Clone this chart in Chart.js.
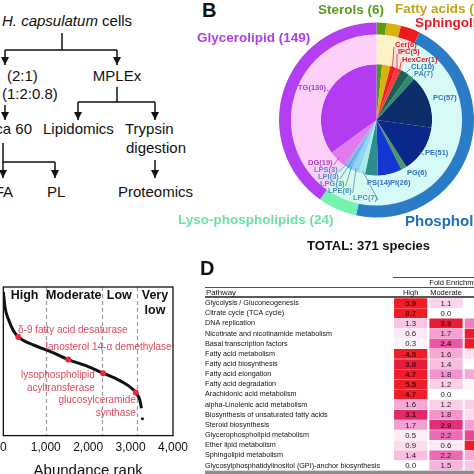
<!DOCTYPE html>
<html>
<head>
<meta charset="utf-8">
<script src="https://cdn.jsdelivr.net/npm/chart.js@4.4.1/dist/chart.umd.min.js"></script>
<style>
    html, body { margin: 0; padding: 0; background: #fff; width: 474px; height: 474px; overflow: hidden; }
    body { position: relative; font-family: 'Liberation Sans', Arial, sans-serif; }
    .abs { position: absolute; }
    .panel-letter { position: absolute; font-weight: bold; font-size: 20px; line-height: 1; color: #111; }
</style>
</head>
<body>

<!-- A: workflow -->
<svg class="abs" style="left:0;top:0" width="200" height="210" font-family="'Liberation Sans', Arial, sans-serif" font-size="15" fill="#111">
    <defs>
        <marker id="ah" viewBox="0 0 10 10" refX="10" refY="5" markerUnits="userSpaceOnUse" markerWidth="8" markerHeight="8" orient="auto">
            <path d="M0,0 L10,5 L0,10 z" fill="#111"/>
        </marker>
    </defs>
    <g stroke="#111" stroke-width="1.5" fill="none">
        <path d="M62,33 V50 M5,50 H117"/>
        <path d="M5,50 V65" marker-end="url(#ah)"/>
        <path d="M117,50 V65" marker-end="url(#ah)"/>
        <path d="M5,105 V120" marker-end="url(#ah)"/>
        <path d="M117,87 V102 M78,102 H155"/>
        <path d="M78,102 V120" marker-end="url(#ah)"/>
        <path d="M155,102 V120" marker-end="url(#ah)"/>
        <path d="M3,143 V178" marker-end="url(#ah)"/>
        <path d="M3,162 H55"/>
        <path d="M55,162 V178" marker-end="url(#ah)"/>
        <path d="M155,160 V178" marker-end="url(#ah)"/>
    </g>
    <text x="2" y="26"><tspan font-style="italic">H. capsulatum</tspan> cells</text>
    <text x="7" y="81">(2:1)</text>
    <text x="117" y="81" text-anchor="middle">MPLEx</text>
    <text x="2" y="99">(1:2:0.8)</text>
    <text x="32" y="134" text-anchor="end">ca 60</text>
    <text x="43" y="134">Lipidomics</text>
    <text x="125" y="134">Trypsin</text>
    <text x="126" y="153">digestion</text>
    <text x="13" y="197" text-anchor="end">FA</text>
    <text x="47" y="197">PL</text>
    <text x="118" y="197">Proteomics</text>
</svg>

<div class="panel-letter" style="left:202px;top:0px">B</div>
<canvas id="lipidChart" class="abs" style="left:170px;top:0" width="304" height="260"></canvas>
<canvas id="rankChart" class="abs" style="left:-5px;top:280px" width="205" height="200"></canvas>
<canvas id="pathChart" class="abs" style="left:200px;top:270px" width="300" height="205"></canvas>
<div class="panel-letter" style="left:200px;top:258px">D</div>

<script>
// ---------- data: B (lipid species) ----------
const classLabels = ['Sterols', 'Fatty acids', 'Sphingolipids', 'Phospholipids', 'Lyso-phospholipids', 'Glycerolipid'];
const classCounts = [6, 9, 12, 171, 24, 149];
const subLabels = ['ST', 'FA', 'Cer', 'IPC', 'HexCer', 'CL', 'PA', 'PC', 'PE', 'PG', 'PI', 'PS',
    'LPC', 'LPE', 'LPG', 'LPI', 'LPS', 'DG', 'TG'];
const subCounts = [6, 9, 6, 5, 1, 10, 7, 57, 51, 6, 26, 14, 7, 8, 3, 3, 3, 19, 130];
const totalSpecies = 371;

// ---------- data: C (abundance rank) ----------
const rankValues = [0, 40, 118, 235, 353, 706, 1099, 1529, 1962, 2353, 2746, 3122, 3216, 3256];
const abundanceValues = [10.77, 10.04, 9.49, 8.95, 8.65, 8.27, 7.97, 7.58, 7.28, 6.94, 6.59, 6.03, 5.68, 5.29];
const tailRanks = [3280];
const tailAbundance = [4.79];
const markedProteins = ['δ-9 fatty acid desaturase', 'lanosterol 14-α demethylase',
    'lysophospholipid acyltransferase', 'glucosylceramide synthase'];
const markedRanks = [353, 1529, 2353, 3122];
const markedAbundance = [8.65, 7.58, 6.94, 6.03];
const tierNames = ['High', 'Moderate', 'Low', 'Very low'];
const tierBounds = [1000, 2320, 3150];
const rankTicks = [0, 1000, 2000, 3000, 4000];

// ---------- data: D (pathway enrichment) ----------
const pathways = [
    'Glycolysis / Gluconeogenesis',
    'Citrate cycle (TCA cycle)',
    'DNA replication',
    'Nicotinate and nicotinamide metabolism',
    'Basal transcription factors',
    'Fatty acid metabolism',
    'Fatty acid biosynthesis',
    'Fatty acid elongation',
    'Fatty acid degradation',
    'Arachidonic acid metabolism',
    'alpha-Linolenic acid metabolism',
    'Biosynthesis of unsaturated fatty acids',
    'Steroid biosynthesis',
    'Glycerophospholipid metabolism',
    'Ether lipid metabolism',
    'Sphingolipid metabolism',
    'Glycosylphosphatidylinositol (GPI)-anchor biosynthesis'
];
const foldColumns = ['High', 'Moderate', 'Low'];
const foldHigh = [5.9, 8.7, 1.3, 0.6, 0.3, 4.5, 3.8, 4.7, 5.5, 4.7, 1.6, 3.1, 1.7, 0.5, 0.9, 1.4, 0.0];
const foldModerate = [1.1, 0.0, 3.9, 1.7, 2.4, 1.6, 1.4, 1.8, 1.2, 0.0, 1.2, 1.8, 2.9, 2.2, 0.6, 2.2, 1.5];
const foldLow = [0.0, 0.0, 2.0, 4.2, 4.4, 0.8, 0.0, 1.6, 0.3, 0.0, 1.2, 0.9, 1.7, 2.6, 4.6, 1.6, 1.3];

// ---------- styles ----------
const FONT = "'Liberation Sans', Arial, sans-serif";
Chart.defaults.font.family = FONT;
Chart.defaults.color = '#111';

const CLASS_COLORS = ['#5a9b1a', '#d9b30f', '#ee1a1a', '#2b7cc7', '#74f2b0', '#b43ef2'];
const CLASS_PALE = ['#fdf3c4', '#fdf3c4', '#fde2e2', '#d6faf6', '#d6fbea', '#fcd0f8'];
const CLASS_TEXT = ['#5a9b1e', '#c4a418', '#e81822', '#2070b8', '#6ee0a0', '#b03ee8'];
const SUB_COLORS = ['#4d961e', '#d6b20a', '#f02020', '#f53a3a', '#d01010', '#1d5e55', '#2e8b6e',
    '#0c2f6b', '#09288a', '#4a9a66', '#1537d0', '#2d8c94',
    '#a8ece4', '#8fd4f2', '#74bde8', '#5fa6de', '#8ab8ee', '#e07cf0', '#b43cf0'];

// label placement for panel B (canvas-local px), index into classes / subclasses
const CLASS_LABEL_POS = [[148, 10, 13.5], [225, 9, 13.5], [245, 23, 13.5], [235, 222, 15], [8, 220, 13.5], [27, 38, 13.5]];
const SUB_LABEL_POS = [
    { i: 2, x: 225, y: 45, c: '#e02020', lead: 'mid' },
    { i: 3, x: 228, y: 52, c: '#e02020', lead: 'mid' },
    { i: 4, x: 232, y: 60, c: '#e02020', lead: 'mid' },
    { i: 5, x: 241, y: 67, c: '#2f70b0', lead: 'mid' },
    { i: 6, x: 244, y: 74, c: '#3a8ab8', lead: 'mid' },
    { i: 7, x: 263, y: 98, c: '#3070c0' },
    { i: 8, x: 255, y: 153, c: '#3070c0', lead: 'dir' },
    { i: 9, x: 237, y: 173, c: '#3070c0' },
    { i: 10, x: 220, y: 183, c: '#3070c0' },
    { i: 11, x: 197, y: 183, c: '#3070c0' },
    { i: 12, x: 183, y: 198, c: '#4a90c0', lead: 'mid' },
    { i: 13, x: 158, y: 191, c: '#4a90c0', lead: 'mid' },
    { i: 14, x: 150, y: 184, c: '#4a90c0', lead: 'mid' },
    { i: 15, x: 148, y: 177, c: '#4a90c0', lead: 'mid' },
    { i: 16, x: 144, y: 170, c: '#4a90c0', lead: 'mid' },
    { i: 17, x: 138, y: 163, c: '#b040c8', lead: 'mid' },
    { i: 18, x: 128, y: 88, c: '#a040d8', lead: 'dir' }
];

// 标签绘制 (panel B)
const lipidLabels = {
    id: 'lipidLabels',
    afterDraw(chart) {
        const ctx = chart.ctx;
        const inner = chart.getDatasetMeta(2).data;
        const cx = inner[0].x, cy = inner[0].y, r = inner[0].outerRadius;
        ctx.save();
        ctx.textBaseline = 'middle';

        // subclass labels + leader lines
        ctx.font = `bold 7.5px ${FONT}`;
        SUB_LABEL_POS.forEach(p => {
            const text = `${subLabels[p.i]}(${subCounts[p.i]})`;
            const w = ctx.measureText(text).width;
            ctx.fillStyle = p.c;
            ctx.textAlign = 'left';
            ctx.fillText(text, p.x, p.y);
            if (!p.lead) return;
            const left = p.x + w / 2 < cx;
            const sx = left ? p.x + w + 1 : p.x - 1;
            const sy = p.y + 2;
            let ang;
            if (p.lead === 'mid') {
                const a = inner[p.i];
                ang = (a.startAngle + a.endAngle) / 2;
            } else {
                ang = Math.atan2(sy - cy, sx - cx);
            }
            const tr = p.lead === 'mid' ? r - 3 : r - 2;
            ctx.strokeStyle = p.c;
            ctx.lineWidth = 0.8;
            ctx.beginPath();
            ctx.moveTo(sx, sy);
            ctx.lineTo(cx + Math.cos(ang) * tr, cy + Math.sin(ang) * tr);
            ctx.stroke();
        });

        // class labels
        CLASS_LABEL_POS.forEach((p, i) => {
            ctx.font = `bold ${p[2]}px ${FONT}`;
            ctx.fillStyle = CLASS_TEXT[i];
            ctx.textAlign = 'left';
            ctx.fillText(`${classLabels[i]} (${classCounts[i]})`, p[0], p[1]);
        });

        ctx.font = `bold 13px ${FONT}`;
        ctx.fillStyle = '#111';
        ctx.fillText(`TOTAL: ${totalSpecies} species`, 137, 246);
        ctx.restore();
    }
};

new Chart(document.getElementById('lipidChart'), {
    type: 'doughnut',
    data: {
        labels: subLabels,
        datasets: [
            { data: classCounts, backgroundColor: CLASS_COLORS, weight: 12, borderWidth: 0 },
            { data: classCounts, backgroundColor: CLASS_PALE, weight: 30, borderWidth: 0 },
            { data: subCounts, backgroundColor: SUB_COLORS, weight: 56, borderWidth: 0 }
        ]
    },
    options: {
        responsive: false,
        animation: false,
        cutout: 0,
        layout: { padding: { left: 109, top: 22, right: 0, bottom: 42 } },
        plugins: { legend: { display: false }, tooltip: { enabled: false } }
    },
    plugins: [lipidLabels]
});

// ---------- panel C ----------
const MARK_LABELS = [
    { lines: ['δ-9 fatty acid desaturase'], x: 346, y: 8.94, align: 'left' },
    { lines: ['lanosterol 14-α demethylase'], x: 3969, y: 8.16, align: 'right' },
    { lines: ['lysophospholipid', 'acyltransferase'], x: 2158, y: 6.84, align: 'right' },
    { lines: ['glucosylceramide', 'synthase'], x: 3122, y: 5.65, align: 'right' }
];

const rankDecor = {
    id: 'rankDecor',
    beforeDatasetsDraw(chart) {
        const { ctx, chartArea: a, scales: { x } } = chart;
        ctx.save();
        ctx.strokeStyle = '#9a9a9a';
        ctx.lineWidth = 1.2;
        ctx.setLineDash([4, 3]);
        tierBounds.forEach(b => {
            const px = Math.round(x.getPixelForValue(b)) + 0.5;
            ctx.beginPath();
            ctx.moveTo(px, a.top);
            ctx.lineTo(px, a.bottom);
            ctx.stroke();
        });
        ctx.restore();
    },
    afterDraw(chart) {
        const { ctx, chartArea: a, scales: { x, y } } = chart;
        ctx.save();
        ctx.strokeStyle = '#111';
        ctx.lineWidth = 1.3;
        ctx.strokeRect(a.left, a.top, a.right - a.left, a.bottom - a.top);

        // tier names
        const edges = [0].concat(tierBounds, [4000]);
        ctx.font = `bold 12.5px ${FONT}`;
        ctx.fillStyle = '#111';
        ctx.textAlign = 'center';
        ctx.textBaseline = 'middle';
        tierNames.forEach((t, i) => {
            const cxp = x.getPixelForValue((edges[i] + edges[i + 1]) / 2);
            const parts = t === 'Very low' ? ['Very', 'low'] : [t];
            parts.forEach((s, k) => ctx.fillText(s, cxp, a.top + 9 + k * 15));
        });

        // protein annotations
        ctx.font = `10px ${FONT}`;
        ctx.fillStyle = '#e0485a';
        MARK_LABELS.forEach(m => {
            ctx.textAlign = m.align;
            m.lines.forEach((s, k) => {
                ctx.fillText(s, x.getPixelForValue(m.x), y.getPixelForValue(m.y) + k * 13);
            });
        });
        ctx.restore();
    }
};

new Chart(document.getElementById('rankChart'), {
    type: 'scatter',
    data: {
        datasets: [
            {
                data: markedRanks.map((r, i) => ({ x: r, y: markedAbundance[i] })),
                pointRadius: 3, backgroundColor: '#e8283a', borderWidth: 0
            },
            {
                data: tailRanks.map((r, i) => ({ x: r, y: tailAbundance[i] })),
                pointRadius: 1.5, backgroundColor: '#111', borderWidth: 0
            },
            {
                data: rankValues.map((r, i) => ({ x: r, y: abundanceValues[i] })),
                showLine: true, borderColor: '#111', borderWidth: 3, pointRadius: 0,
                cubicInterpolationMode: 'monotone'
            }
        ]
    },
    options: {
        responsive: false,
        animation: false,
        layout: { padding: { left: 3, top: 7, right: 27, bottom: 0 } },
        scales: {
            x: {
                type: 'linear', min: 0, max: 4000,
                afterBuildTicks: axis => { axis.ticks = rankTicks.map(v => ({ value: v })); },
                ticks: { color: '#111', font: { size: 12 }, padding: 5, maxRotation: 0 },
                grid: { display: false, drawTicks: false },
                border: { display: false },
                title: { display: true, text: 'Abundance rank', color: '#111', font: { size: 15 }, padding: { top: 2, bottom: 0 } }
            },
            y: { min: 4, max: 11, display: false }
        },
        plugins: { legend: { display: false }, tooltip: { enabled: false } }
    },
    plugins: [rankDecor]
});

// ---------- panel D ----------
const HEAT_STOPS = [
    [0, [255, 255, 255]], [0.6, [253, 234, 244]], [1.2, [250, 208, 232]], [1.7, [244, 160, 210]],
    [2.3, [236, 96, 174]], [2.9, [224, 48, 122]], [3.5, [224, 28, 68]], [4.5, [240, 28, 40]], [10, [240, 28, 36]]
];

function heatColor(v) {
    for (let k = 1; k < HEAT_STOPS.length; k++) {
        const [v1, c1] = HEAT_STOPS[k];
        if (v <= v1) {
            const [v0, c0] = HEAT_STOPS[k - 1];
            const t = (v - v0) / (v1 - v0);
            const c = c0.map((ch, j) => Math.round(ch + (c1[j] - ch) * t));
            return `rgb(${c.join(',')})`;
        }
    }
    return 'rgb(240,28,36)';
}

const foldSeries = [foldHigh, foldModerate, foldLow];

const tableDecor = {
    id: 'tableDecor',
    afterDraw(chart) {
        const { ctx, chartArea: a, scales: { x } } = chart;
        ctx.save();
        ctx.strokeStyle = '#222';
        ctx.fillStyle = '#111';
        ctx.textBaseline = 'middle';

        ctx.lineWidth = 0.8;
        ctx.beginPath();
        ctx.moveTo(a.left, 7.5); ctx.lineTo(300, 7.5);
        ctx.moveTo(5, 17.5); ctx.lineTo(300, 17.5);
        ctx.stroke();
        ctx.lineWidth = 1.3;
        ctx.beginPath();
        ctx.moveTo(5, 27); ctx.lineTo(300, 27);
        ctx.stroke();

        ctx.font = `7.5px ${FONT}`;
        ctx.textAlign = 'center';
        ctx.fillText('Fold Enrichment', x.getPixelForValue(1.8), 12.5);
        foldColumns.forEach((c, i) => ctx.fillText(c, x.getPixelForValue(i + 0.5), 22.5));
        ctx.textAlign = 'left';
        ctx.font = `7.8px ${FONT}`;
        ctx.fillText('Pathway', 6, 22.5);

        ctx.fillStyle = '#8e8e8e';
        ctx.fillRect(5, a.bottom, 295, 3.5);

        // cell values
        chart.data.datasets.forEach((ds, di) => {
            chart.getDatasetMeta(di).data.forEach((bar, j) => {
                const v = foldSeries[di][j];
                const strong = v >= 2.3;
                ctx.font = `${strong ? 'bold ' : ''}7.8px ${FONT}`;
                ctx.fillStyle = strong ? '#5a0512' : '#222';
                ctx.textAlign = 'center';
                ctx.fillText(v.toFixed(1), (bar.x + bar.base) / 2, bar.y + 0.5);
            });
        });
        ctx.restore();
    }
};

new Chart(document.getElementById('pathChart'), {
    type: 'bar',
    data: {
        labels: pathways,
        datasets: foldSeries.map((vals, c) => ({
            label: foldColumns[c],
            data: vals.map(() => [c + 0.03, c + 0.97]),
            backgroundColor: vals.map(heatColor),
            borderWidth: 0,
            barPercentage: 1,
            categoryPercentage: 0.96,
            grouped: false
        }))
    },
    options: {
        indexAxis: 'y',
        responsive: false,
        animation: false,
        layout: { padding: { left: 5, top: 28, right: 1, bottom: 4 } },
        scales: {
            x: { min: 0, max: 3, display: false },
            y: {
                afterFit: axis => { axis.width = 188; },
                ticks: { autoSkip: false, crossAlign: 'far', color: '#111', font: { size: 7.2 }, padding: 0 },
                grid: { display: false, drawTicks: false },
                border: { display: false }
            }
        },
        plugins: { legend: { display: false }, tooltip: { enabled: false } }
    },
    plugins: [tableDecor]
});
</script>
</body>
</html>
